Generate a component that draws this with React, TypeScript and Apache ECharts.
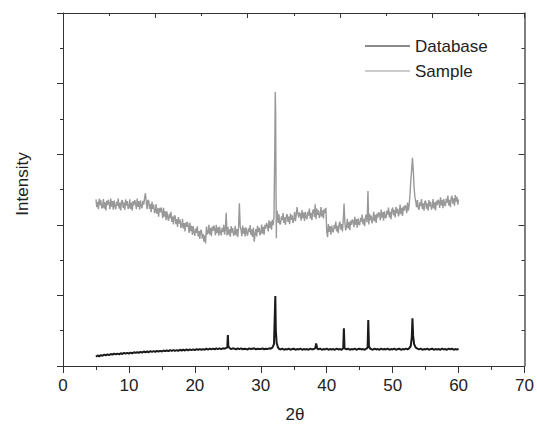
import React, { useEffect, useRef } from "react";
import * as echarts from "echarts";

const seriesNames = ["Database", "Sample"];
const xTickValues = [0, 10, 20, 30, 40, 50, 60, 70];

const databaseData: [number, number][] = [
  [5, 0.26], [5.25, 0.30], [5.5, 0.27], [5.75, 0.31],
  [6, 0.29], [6.25, 0.32], [6.5, 0.30], [6.75, 0.33],
  [7, 0.31], [7.25, 0.34], [7.5, 0.32], [7.75, 0.35],
  [8, 0.33], [8.25, 0.35], [8.5, 0.33], [8.75, 0.36],
  [9, 0.34], [9.25, 0.37], [9.5, 0.35], [9.75, 0.37],
  [10, 0.35], [10.25, 0.38], [10.5, 0.36], [10.75, 0.39],
  [11, 0.37], [11.25, 0.39], [11.5, 0.37], [11.75, 0.40],
  [12, 0.38], [12.25, 0.41], [12.5, 0.39], [12.75, 0.41],
  [13, 0.39], [13.25, 0.42], [13.5, 0.40], [13.75, 0.42],
  [14, 0.40], [14.25, 0.43], [14.5, 0.41], [14.75, 0.43],
  [15, 0.41], [15.25, 0.44], [15.5, 0.42], [15.75, 0.44],
  [16, 0.42], [16.25, 0.45], [16.5, 0.43], [16.75, 0.45],
  [17, 0.43], [17.25, 0.45], [17.5, 0.43], [17.75, 0.46],
  [18, 0.44], [18.25, 0.46], [18.5, 0.44], [18.75, 0.47],
  [19, 0.44], [19.25, 0.47], [19.5, 0.45], [19.75, 0.47],
  [20, 0.45], [20.25, 0.48], [20.5, 0.46], [20.75, 0.48],
  [21, 0.46], [21.25, 0.48], [21.5, 0.46], [21.75, 0.49],
  [22, 0.46], [22.25, 0.49], [22.5, 0.47], [22.75, 0.49],
  [23, 0.47], [23.25, 0.50], [23.5, 0.48], [23.75, 0.50],
  [24, 0.48], [24.25, 0.50], [24.5, 0.49], [24.75, 0.51],
  [24.92, 0.53], [25.0, 0.88], [25.08, 0.56],
  [25.25, 0.51], [25.5, 0.48], [25.75, 0.50],
  [26, 0.49], [26.25, 0.47], [26.5, 0.50], [26.75, 0.48],
  [27, 0.50], [27.25, 0.47], [27.5, 0.49], [27.75, 0.48],
  [28, 0.47], [28.25, 0.50], [28.5, 0.48], [28.75, 0.49],
  [29, 0.50], [29.25, 0.47], [29.5, 0.49], [29.75, 0.48],
  [30, 0.48], [30.25, 0.50], [30.5, 0.47], [30.75, 0.49],
  [31, 0.48], [31.25, 0.50], [31.5, 0.49], [31.75, 0.52],
  [32.0, 0.62], [32.1, 1.3], [32.2, 1.98], [32.28, 1.0], [32.4, 0.66],
  [32.6, 0.53], [32.8, 0.48],
  [33, 0.47], [33.25, 0.49], [33.5, 0.46], [33.75, 0.48],
  [34, 0.47], [34.25, 0.49], [34.5, 0.46], [34.75, 0.48],
  [35, 0.49], [35.25, 0.46], [35.5, 0.48], [35.75, 0.47],
  [36, 0.49], [36.25, 0.46], [36.5, 0.48], [36.75, 0.47],
  [37, 0.48], [37.25, 0.46], [37.5, 0.49], [37.75, 0.47],
  [38, 0.48], [38.25, 0.50], [38.4, 0.64], [38.55, 0.50], [38.75, 0.47],
  [39, 0.49], [39.25, 0.46], [39.5, 0.48], [39.75, 0.47],
  [40, 0.49], [40.25, 0.46], [40.5, 0.48], [40.75, 0.47],
  [41, 0.48], [41.25, 0.46], [41.5, 0.49], [41.75, 0.47],
  [42, 0.48], [42.25, 0.46], [42.5, 0.50], [42.6, 1.07], [42.7, 0.50],
  [43, 0.47], [43.25, 0.49], [43.5, 0.46], [43.75, 0.48],
  [44, 0.47], [44.25, 0.49], [44.5, 0.46], [44.75, 0.48],
  [45, 0.49], [45.25, 0.47], [45.5, 0.48], [45.75, 0.46],
  [46, 0.49], [46.2, 0.52], [46.3, 1.30], [46.4, 0.56], [46.6, 0.49], [46.75, 0.48],
  [47, 0.46], [47.25, 0.49], [47.5, 0.47], [47.75, 0.48],
  [48, 0.46], [48.25, 0.49], [48.5, 0.47], [48.75, 0.48],
  [49, 0.47], [49.25, 0.49], [49.5, 0.46], [49.75, 0.48],
  [50, 0.47], [50.25, 0.49], [50.5, 0.46], [50.75, 0.48],
  [51, 0.49], [51.25, 0.46], [51.5, 0.48], [51.75, 0.47],
  [52, 0.49], [52.25, 0.47], [52.5, 0.50], [52.75, 0.57],
  [52.9, 0.82], [53.0, 1.35], [53.1, 0.86], [53.25, 0.62], [53.5, 0.52], [53.75, 0.49],
  [54, 0.47], [54.25, 0.49], [54.5, 0.46], [54.75, 0.48],
  [55, 0.47], [55.25, 0.49], [55.5, 0.46], [55.75, 0.48],
  [56, 0.49], [56.25, 0.46], [56.5, 0.48], [56.75, 0.47],
  [57, 0.48], [57.25, 0.46], [57.5, 0.49], [57.75, 0.47],
  [58, 0.48], [58.25, 0.46], [58.5, 0.49], [58.75, 0.47],
  [59, 0.49], [59.25, 0.46], [59.5, 0.48], [59.75, 0.47],
  [60, 0.48],
];

// Sample readings on a 0.125° grid from 5° to 60° (one row per degree)
const sampleStart = 5;
const sampleStep = 0.125;
const sampleY: number[] = [
  4.72, 4.50, 4.65, 4.44, 4.74, 4.56, 4.69, 4.47, // 5
  4.50, 4.73, 4.46, 4.64, 4.41, 4.68, 4.56, 4.71, // 6
  4.62, 4.44, 4.74, 4.51, 4.67, 4.43, 4.69, 4.53, // 7
  4.44, 4.65, 4.54, 4.74, 4.46, 4.62, 4.41, 4.67, // 8
  4.70, 4.48, 4.63, 4.42, 4.72, 4.54, 4.67, 4.45, // 9
  4.49, 4.72, 4.45, 4.63, 4.40, 4.67, 4.55, 4.70, // 10
  4.62, 4.44, 4.74, 4.51, 4.67, 4.43, 4.69, 4.53, // 11
  4.47, 4.68, 4.57, 4.77, 4.90, 4.65, 4.44, 4.70, // 12
  4.68, 4.45, 4.59, 4.36, 4.65, 4.45, 4.57, 4.33, // 13
  4.37, 4.59, 4.31, 4.47, 4.23, 4.48, 4.35, 4.49, // 14
  4.38, 4.19, 4.48, 4.23, 4.38, 4.13, 4.38, 4.21, // 15
  4.11, 4.31, 4.19, 4.37, 4.08, 4.23, 4.01, 4.26, // 16
  4.25, 4.02, 4.16, 3.94, 4.22, 4.03, 4.15, 3.92, // 17
  3.95, 4.17, 3.89, 4.05, 3.81, 4.07, 3.94, 4.08, // 18
  3.96, 3.77, 4.06, 3.82, 3.97, 3.71, 3.96, 3.79, // 19
  3.69, 3.89, 3.77, 3.96, 3.67, 3.82, 3.60, 3.85, // 20
  3.84, 3.61, 3.74, 3.52, 3.70, 3.47, 3.95, 3.73, // 21
  3.77, 4.00, 3.73, 3.91, 3.68, 3.95, 3.83, 3.98, // 22
  3.88, 3.70, 4.00, 3.77, 3.93, 3.69, 3.95, 3.79, // 23
  3.70, 3.91, 3.80, 4.00, 3.72, 3.88, 4.34, 3.70, // 24
  3.94, 3.72, 3.87, 3.66, 3.96, 3.78, 3.91, 3.69, // 25
  3.74, 3.97, 3.70, 3.88, 3.65, 3.92, 4.61, 3.95, // 26
  3.86, 3.68, 3.98, 3.75, 3.91, 3.67, 3.93, 3.77, // 27
  3.69, 3.90, 3.79, 3.99, 3.71, 3.87, 3.66, 3.92, // 28
  3.52, 3.73, 3.88, 3.67, 3.97, 3.79, 3.92, 3.70, // 29
  3.77, 4.01, 3.75, 3.94, 3.72, 4.00, 3.89, 4.05, // 30
  3.98, 3.81, 4.13, 3.91, 4.09, 3.86, 4.14, 3.99, // 31
  4.24, 6.20, 7.20, 4.20, 4.40, 4.05, 4.30, 4.02, // 32
  4.03, 4.24, 4.13, 4.33, 4.05, 4.21, 4.00, 4.26, // 33
  4.30, 4.08, 4.23, 4.02, 4.32, 4.14, 4.27, 4.05, // 34
  4.14, 4.37, 4.10, 4.28, 4.50, 4.32, 4.20, 4.35, // 35
  4.30, 4.12, 4.42, 4.19, 4.35, 4.11, 4.37, 4.21, // 36
  4.16, 4.37, 4.26, 4.46, 4.18, 4.34, 4.13, 4.39, // 37
  4.44, 4.22, 4.58, 4.16, 4.46, 4.28, 4.41, 4.19, // 38
  4.27, 4.50, 4.23, 4.41, 4.18, 4.45, 4.33, 4.48, // 39
  3.80, 3.65, 4.02, 3.80, 3.96, 3.72, 3.98, 3.82, // 40
  3.79, 4.00, 3.89, 4.09, 3.81, 3.97, 3.76, 4.02, // 41
  4.09, 3.87, 4.02, 3.81, 4.11, 4.60, 4.06, 3.84, // 42
  3.94, 4.17, 3.90, 4.08, 3.85, 4.12, 4.00, 4.15, // 43
  4.11, 3.93, 4.23, 4.00, 4.16, 3.92, 4.18, 4.02, // 44
  3.99, 4.20, 4.09, 4.29, 4.01, 4.17, 3.96, 4.22, // 45
  4.29, 4.07, 4.96, 4.01, 4.31, 4.13, 4.26, 4.04, // 46
  4.14, 4.37, 4.10, 4.28, 4.05, 4.32, 4.20, 4.35, // 47
  4.31, 4.13, 4.43, 4.20, 4.36, 4.12, 4.38, 4.22, // 48
  4.19, 4.40, 4.29, 4.49, 4.21, 4.37, 4.16, 4.42, // 49
  4.49, 4.27, 4.42, 4.21, 4.51, 4.33, 4.46, 4.24, // 50
  4.34, 4.57, 4.30, 4.48, 4.25, 4.52, 4.40, 4.55, // 51
  4.51, 4.33, 4.63, 4.40, 4.56, 4.85, 5.25, 5.55, // 52
  5.90, 5.55, 5.05, 4.78, 4.66, 4.50, 4.70, 4.48, // 53
  4.43, 4.64, 4.53, 4.73, 4.45, 4.61, 4.40, 4.66, // 54
  4.68, 4.46, 4.61, 4.40, 4.70, 4.52, 4.65, 4.43, // 55
  4.50, 4.73, 4.46, 4.64, 4.41, 4.68, 4.56, 4.71, // 56
  4.66, 4.48, 4.78, 4.55, 4.71, 4.47, 4.73, 4.57, // 57
  4.53, 4.74, 4.63, 4.83, 4.55, 4.71, 4.50, 4.76, // 58
  4.82, 4.60, 4.75, 4.54, 4.84, 4.66, 4.79, 4.57, // 59
  4.72, // 60
];
// Extra readings around the main 32.2° reflection (its apex and the dip after it)
const samplePeakExtras: [number, number][] = [
  [32.19, 7.76], [32.31, 5.0], [32.36, 3.62],
];

const FONT = "'Liberation Sans', Arial, sans-serif";
const AXIS_COLOR = "#333";

export default function App() {
  const ref = useRef<HTMLDivElement>(null);

  useEffect(() => {
    if (!ref.current) return;
    const chart = echarts.init(ref.current, undefined, { renderer: "svg" });
    const sampleData: [number, number][] = sampleY
      .map((y, i) => [sampleStart + i * sampleStep, y] as [number, number])
      .concat(samplePeakExtras)
      .sort((a, b) => a[0] - b[0]);
    const axisLine = { show: true, onZero: false, lineStyle: { color: AXIS_COLOR, width: 1 } };
    chart.setOption({
      animation: false,
      backgroundColor: "#fff",
      grid: { left: 63, right: 10, top: 13, bottom: 63, containLabel: false },
      legend: {
        orient: "vertical",
        left: 365,
        top: 36,
        itemWidth: 45,
        itemHeight: 1.2,
        itemGap: 5,
        padding: 0,
        icon: "rect",
        data: seriesNames,
        textStyle: { fontFamily: FONT, fontSize: 17, color: "#222", lineHeight: 20 },
      },
      xAxis: [
        {
          type: "value",
          position: "bottom",
          min: 0,
          max: 70,
          interval: 10,
          axisLine,
          axisTick: { show: true, inside: false, length: 7, lineStyle: { color: AXIS_COLOR } },
          minorTick: { show: true, splitNumber: 2, length: 4, lineStyle: { color: AXIS_COLOR } },
          splitLine: { show: false },
          axisLabel: {
            show: true,
            margin: 11,
            fontFamily: FONT,
            fontSize: 17,
            color: "#222",
            customValues: xTickValues,
          },
        },
        {
          type: "value",
          position: "top",
          min: 0,
          max: 70,
          interval: 14,
          axisLine,
          axisTick: { show: true, inside: true, length: 5, lineStyle: { color: AXIS_COLOR } },
          minorTick: { show: true, splitNumber: 2, length: 3, lineStyle: { color: AXIS_COLOR } },
          splitLine: { show: false },
          axisLabel: { show: false },
        },
      ],
      yAxis: [
        {
          type: "value",
          position: "left",
          min: 0,
          max: 10,
          interval: 2,
          axisLine,
          axisTick: { show: true, inside: false, length: 6, lineStyle: { color: AXIS_COLOR } },
          minorTick: { show: true, splitNumber: 2, length: 3, lineStyle: { color: AXIS_COLOR } },
          splitLine: { show: false },
          axisLabel: { show: false },
        },
        {
          type: "value",
          position: "right",
          min: 0,
          max: 10,
          interval: 2,
          axisLine: { show: true, onZero: false, lineStyle: { color: "#555", width: 1.5 } },
          axisTick: { show: true, inside: true, length: 6, lineStyle: { color: AXIS_COLOR } },
          minorTick: { show: true, splitNumber: 2, length: 3, lineStyle: { color: AXIS_COLOR } },
          splitLine: { show: false },
          axisLabel: { show: false },
        },
      ],
      graphic: [
        {
          type: "text",
          x: 22,
          y: 184,
          rotation: Math.PI / 2,
          style: {
            text: "Intensity",
            fontFamily: FONT,
            fontSize: 17,
            fill: "#222",
            align: "center",
            verticalAlign: "middle",
          },
        },
        {
          type: "text",
          x: 295,
          y: 414,
          style: {
            text: "2θ",
            fontFamily: FONT,
            fontSize: 17,
            fill: "#222",
            align: "center",
            verticalAlign: "middle",
          },
        },
      ],
      series: [
        {
          name: seriesNames[0],
          type: "line",
          data: databaseData,
          showSymbol: false,
          symbol: "none",
          color: "#1a1a1a",
          lineStyle: { color: "#1a1a1a", width: 2 },
          z: 3,
        },
        {
          name: seriesNames[1],
          type: "line",
          data: sampleData,
          showSymbol: false,
          symbol: "none",
          color: "#999999",
          lineStyle: { color: "#999999", width: 1.4 },
          z: 2,
        },
      ],
    });
    return () => chart.dispose();
  }, []);

  return (
    <div
      ref={ref}
      style={{ position: "fixed", left: 0, top: 0, width: 537, height: 429 }}
    />
  );
}
